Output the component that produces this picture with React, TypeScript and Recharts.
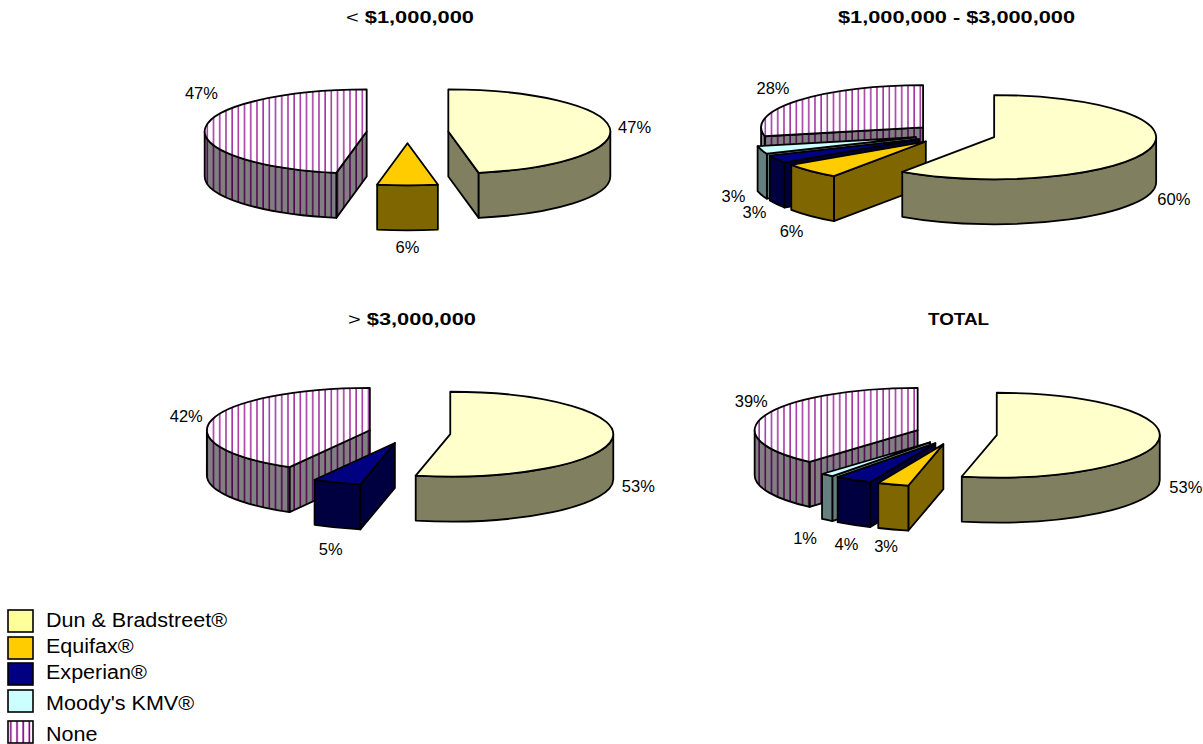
import React from 'react';
import { PieChart, Pie, Legend } from 'recharts';

const vendors = ['Dun & Bradstreet®', 'Equifax®', 'Experian®', "Moody's KMV®", 'None'];

// share of respondents per vendor, same order as vendors
const under1m = [47, 6, 0, 0, 47];
const from1to3m = [59.6, 6, 3, 3, 28.4];
const over3m = [53.4, 0, 4.8, 0, 41.8];
const total = [53.49, 3.1, 3.7, 1.3, 38.5];

const topColors = ['#FFFFCC', '#FFCC00', '#000080', '#CCFFFF', 'url(#hatchTop)'];
const wallColors = ['#808060', '#806600', '#000040', '#668080', 'url(#hatchWall)'];
const legendColors = ['#FFFF99', '#FFCC00', '#000080', '#CCFFFF', 'url(#hatchLegend)'];

const TILT = 0.26;
const DEPTH = 45;
const EXPLODE = 41;
const SERIF_FREE = 'Liberation Sans, Arial, sans-serif';

// label offsets from the slice's rim point, per vendor index
const charts = [
  { key: 'a', values: under1m, cx: 407.5, cy: 132.5, r: 162, nudges: { 0: [25, -1], 1: [0, 62], 4: [-4, -35] } },
  { key: 'b', values: from1to3m, cx: 955, cy: 134, r: 162, nudges: { 0: [25, 49], 1: [-19, 60], 2: [-22, 53], 3: [-28, 46], 4: [-24, -13] } },
  { key: 'c', values: over3m, cx: 409.5, cy: 433, r: 163, nudges: { 0: [26, 47], 2: [-6, 66], 4: [-26, -3] } },
  { key: 'd', values: total, cx: 956, cy: 434, r: 163, nudges: { 0: [27, 47], 1: [-7, 62], 2: [-7, 64], 3: [-22, 63], 4: [-14, -14] } },
];

const titles = [
  { x: 410, y: 23, len: 128, op: '<', text: ' $1,000,000' },
  { x: 956.5, y: 23, len: 237, op: '', text: '$1,000,000 - $3,000,000' },
  { x: 412, y: 325, len: 128, op: '>', text: ' $3,000,000' },
  { x: 958.5, y: 325, len: 61, op: '', text: 'TOTAL' },
];

const legendTops = [609, 636, 662, 689, 720];
const legendTextTops = [609, 635, 661, 692, 723];

const rad = (deg: number) => (deg * Math.PI) / 180;

function rimPoint(x: number, y: number, angle: number, r: number) {
  return [x + r * Math.cos(rad(angle)), y - r * TILT * Math.sin(rad(angle))];
}

function Slice3D(props: any) {
  const { cx, cy, outerRadius: r, startAngle, endAngle, payload } = props;
  if (endAngle - startAngle <= 0) return null;
  const s = startAngle;
  const e = endAngle;
  const [ax, ay] = rimPoint(cx, cy, (s + e) / 2, EXPLODE);
  const ry = r * TILT;
  const [sx, sy] = rimPoint(ax, ay, s, r);
  const [ex, ey] = rimPoint(ax, ay, e, r);
  const large = e - s > 180 ? 1 : 0;
  const top = `M${ax},${ay} L${sx},${sy} A${r},${ry} 0 ${large} 0 ${ex},${ey} Z`;
  const wall = wallColors[payload.idx];
  const edge = { stroke: '#000', strokeWidth: 1.8, strokeLinejoin: 'round' as const };

  const walls = [];
  if (Math.cos(rad(s)) > 0.001) {
    walls.push(`M${ax},${ay} L${sx},${sy} V${sy + DEPTH} L${ax},${ay + DEPTH} Z`);
  }
  if (Math.cos(rad(e)) < -0.001) {
    walls.push(`M${ax},${ay} L${ex},${ey} V${ey + DEPTH} L${ax},${ay + DEPTH} Z`);
  }
  // outer rim only shows on the near half of the ellipse
  const a = Math.max(s, 180);
  const b = Math.min(e, 360);
  if (b > a) {
    const [px, py] = rimPoint(ax, ay, a, r);
    const [qx, qy] = rimPoint(ax, ay, b, r);
    walls.push(
      `M${px},${py} A${r},${ry} 0 0 0 ${qx},${qy} V${qy + DEPTH} A${r},${ry} 0 0 1 ${px},${py + DEPTH} Z`,
    );
  }

  return (
    <g>
      {walls.map((d) => (
        <path key={d} d={d} fill={wall} {...edge} />
      ))}
      <path d={top} fill={topColors[payload.idx]} {...edge} />
    </g>
  );
}

function sliceLabel(nudges: Record<number, number[]>) {
  return (props: any) => {
    const { cx, cy, midAngle, outerRadius, payload, value } = props;
    if (!value) return null;
    const [ax, ay] = rimPoint(cx, cy, midAngle, EXPLODE);
    const [x, y] = rimPoint(ax, ay, midAngle, outerRadius);
    const [dx, dy] = nudges[payload.idx] || [0, 0];
    return (
      <text
        x={x + dx}
        y={y + dy}
        textAnchor="middle"
        dominantBaseline="central"
        fontFamily={SERIF_FREE}
        fontSize={16.5}
        fill="#000"
      >
        {Math.round(value)}%
      </text>
    );
  };
}

function VendorLegend() {
  return (
    <div style={{ position: 'relative', width: 240, height: 144, fontFamily: SERIF_FREE, fontSize: 20 }}>
      {vendors.map((name, i) => (
        <React.Fragment key={name}>
          <svg width={27} height={24} style={{ position: 'absolute', left: 7, top: legendTops[i] - 600 }}>
            <defs>
              <pattern id="hatchLegend" patternUnits="userSpaceOnUse" width={6.2} height={10}>
                <rect width={6.2} height={10} fill="#fff" />
                <rect x={3} width={1.6} height={10} fill="#800080" />
              </pattern>
            </defs>
            <rect x={1} y={1} width={25} height={22} fill={legendColors[i]} stroke="#000" strokeWidth={1.6} />
          </svg>
          <span
            style={{
              position: 'absolute',
              left: 46,
              top: legendTextTops[i] - 600,
              whiteSpace: 'nowrap',
              color: '#000',
              transform: 'scaleX(1.077)',
              transformOrigin: 'left',
            }}
          >
            {name}
          </span>
        </React.Fragment>
      ))}
    </div>
  );
}

export default function App() {
  return (
    <div style={{ position: 'absolute', left: 0, top: 0, width: 1203, height: 744, overflow: 'hidden' }}>
      <PieChart width={1203} height={744} margin={{ top: 0, right: 0, bottom: 0, left: 0 }}>
        <defs>
          <pattern id="hatchTop" patternUnits="userSpaceOnUse" width={6.2} height={10}>
            <rect width={6.2} height={10} fill="#fff" />
            <rect x={2} width={1.5} height={10} fill="#A030A0" />
          </pattern>
          <pattern id="hatchWall" patternUnits="userSpaceOnUse" width={6.2} height={10}>
            <rect width={6.2} height={10} fill="#808080" />
            <rect x={2} width={1.5} height={10} fill="#500050" />
          </pattern>
        </defs>
        {titles.map((t) => (
          <text
            key={t.text}
            x={t.x}
            y={t.y}
            textAnchor="middle"
            textLength={t.len}
            lengthAdjust="spacingAndGlyphs"
            fontFamily={SERIF_FREE}
            fontSize={16}
            fontWeight="bold"
            fill="#000"
          >
            {t.op ? <tspan fontWeight="normal">{t.op}</tspan> : null}
            {t.text}
          </text>
        ))}
        {charts.map((c) => (
          <Pie
            key={c.key}
            // drawn back to front: None first, Dun & Bradstreet last, running anticlockwise from 12 o'clock
            data={vendors.map((name, idx) => ({ name, idx, value: c.values[idx] })).reverse()}
            dataKey="value"
            nameKey="name"
            cx={c.cx}
            cy={c.cy}
            innerRadius={0}
            outerRadius={c.r}
            startAngle={90}
            endAngle={450}
            stroke="none"
            shape={(p: any) => <Slice3D {...p} />}
            label={sliceLabel(c.nudges)}
            labelLine={false}
            isAnimationActive={false}
          />
        ))}
        <Legend
          content={() => <VendorLegend />}
          wrapperStyle={{ position: 'absolute', left: 0, top: 600, width: 240, height: 144 }}
        />
      </PieChart>
    </div>
  );
}
